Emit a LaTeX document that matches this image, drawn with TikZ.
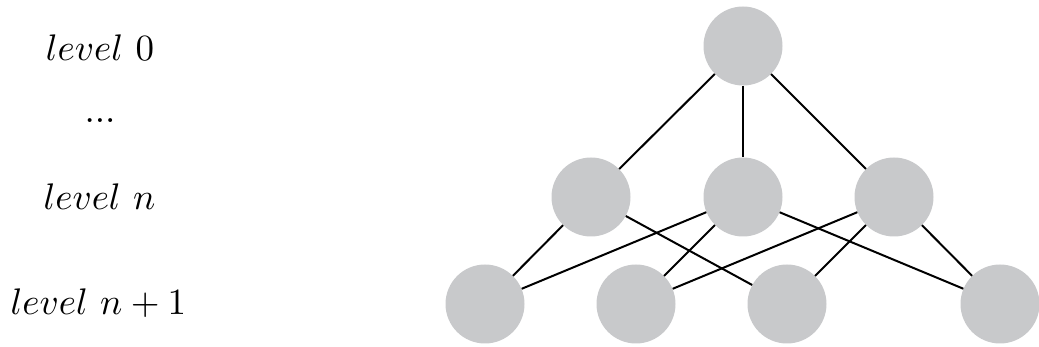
\documentclass[tikz,border=0pt]{standalone}
\usepackage{graphicx}
\newcommand{\bigtxt}[1]{\scalebox{3.7}{#1}}
\begin{document}
\begin{tikzpicture}[x=1pt,y=-1pt,
  neuron/.style={circle,fill=nodegray,draw=none,minimum size=79pt,inner sep=0pt},
  conn/.style={line width=2pt,black},
  lbl/.style={anchor=base,inner sep=0pt}]
\definecolor{nodegray}{RGB}{200,201,203}
\useasboundingbox (0,0) rectangle (1039,347);
\node[neuron] (t) at (743,46) {};
\node[neuron] (m1) at (591,197) {};
\node[neuron] (m2) at (743,197) {};
\node[neuron] (m3) at (894,197) {};
\node[neuron] (b1) at (485,304) {};
\node[neuron] (b2) at (636,304) {};
\node[neuron] (b3) at (787,304) {};
\node[neuron] (b4) at (1000,304) {};
\draw[conn] (t) -- (m1);
\draw[conn] (t) -- (m2);
\draw[conn] (t) -- (m3);
\draw[conn] (m1) -- (b1);
\draw[conn] (m1) -- (b3);
\draw[conn] (m2) -- (b1);
\draw[conn] (m2) -- (b2);
\draw[conn] (m2) -- (b4);
\draw[conn] (m3) -- (b2);
\draw[conn] (m3) -- (b3);
\draw[conn] (m3) -- (b4);
\node[lbl] (l0) at (100,61) {\bigtxt{$level\ 0$}};
\node[lbl] (ld) at (100,123) {\bigtxt{$...$}};
\node[lbl] (ln) at (99.5,210) {\bigtxt{$level\ n$}};
\node[lbl] (ln1) at (98.5,315) {\bigtxt{$level\ n+1$}};
\end{tikzpicture}
\end{document}
